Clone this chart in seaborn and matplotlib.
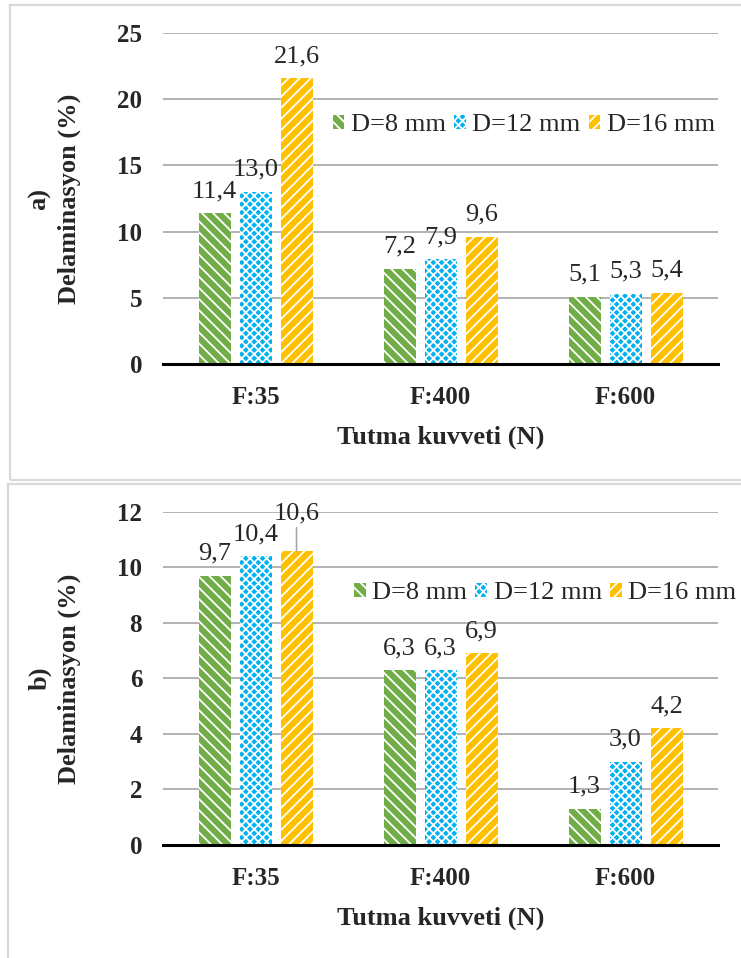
import matplotlib
matplotlib.use("Agg")
import matplotlib.pyplot as plt
from matplotlib.patches import Rectangle
import pandas as pd
import seaborn as sns

# Clamping force categories and drill diameters
forces = ["F:35", "F:400", "F:600"]
diameters = ["D=8 mm", "D=12 mm", "D=16 mm"]

# Delamination (%) for panel a)
a_d8 = [11.4, 7.2, 5.1]
a_d12 = [13.0, 7.9, 5.3]
a_d16 = [21.6, 9.6, 5.4]

# Delamination (%) for panel b)
b_d8 = [9.7, 6.3, 1.3]
b_d12 = [10.4, 6.3, 3.0]
b_d16 = [10.6, 6.9, 4.2]

a_ticks = [0, 5, 10, 15, 20, 25]
b_ticks = [0, 2, 4, 6, 8, 10, 12]

colors = ["#70AD47", "#00B0F0", "#FFC000"]
hatches = ["\\\\\\", "xxxx", "///"]

sns.set_theme(style="white")
plt.rcParams["font.family"] = ["Liberation Serif", "DejaVu Serif"]
plt.rcParams["hatch.linewidth"] = 1.3


def frame(series):
    rows = []
    for d, vals in zip(diameters, series):
        for f, v in zip(forces, vals):
            rows.append({"force": f, "diameter": d, "value": v})
    return pd.DataFrame(rows)


def fmt(v):
    return f"{v:.1f}".replace(".", ",")


fig = plt.figure(figsize=(7.41, 9.58), dpi=100)

# light panel frames
fig.patches.append(Rectangle((10 / 741, 1 - 480 / 958), 740 / 741, 475 / 958,
                             transform=fig.transFigure, fill=False,
                             edgecolor="#D9D9D9", lw=1.6))
fig.patches.append(Rectangle((8 / 741, -0.01), 740 / 741, 1 - 484 / 958 + 0.01,
                             transform=fig.transFigure, fill=False,
                             edgecolor="#D9D9D9", lw=1.6))

ax_a = fig.add_axes([0.22, 0.62, 0.749, 0.3455])
ax_b = fig.add_axes([0.22, 0.118, 0.749, 0.3476])

panels = [
    (ax_a, [a_d8, a_d12, a_d16], a_ticks, "a)", (0.707, 0.8695), None),
    (ax_b, [b_d8, b_d12, b_d16], b_ticks, "b)", (0.7355, 0.381), (2, 0)),
]

for ax, series, ticks, tag, leg_pos, leader in panels:
    df = frame(series)
    sns.barplot(data=df, x="force", y="value", hue="diameter",
                order=forces, hue_order=diameters, palette=colors,
                width=0.665, gap=0.22, ax=ax, legend=False,
                saturation=1, errorbar=None)
    for i, cont in enumerate(ax.containers):
        for p in cont.patches:
            p.set_hatch(hatches[i])
            p.set_edgecolor("white")
            p.set_linewidth(0)
        labels = [fmt(v) for v in series[i]]
        if leader is not None and leader[0] == i:
            j = leader[1]
            lab = labels.copy()
            lab[j] = ""
            ax.bar_label(cont, labels=lab, padding=8, fontsize=19)
            p = cont.patches[j]
            ax.annotate(labels[j], xy=(p.get_x() + p.get_width() / 2, p.get_height()),
                        xytext=(0, 19), textcoords="offset points",
                        ha="center", va="bottom", fontsize=19,
                        arrowprops=dict(arrowstyle="-", color="#A6A6A6",
                                        lw=1.2, shrinkA=0, shrinkB=0))
        else:
            ax.bar_label(cont, labels=labels, padding=8, fontsize=19)

    ax.set_ylim(ticks[0], ticks[-1])
    ax.set_yticks(ticks)
    ax.set_xlim(-0.5, 2.5)
    ax.yaxis.grid(True, color="#A6A6A6", lw=1.2)
    ax.set_axisbelow(True)
    for s in ["top", "right", "left"]:
        ax.spines[s].set_visible(False)
    ax.spines["bottom"].set_color("black")
    ax.spines["bottom"].set_linewidth(2.2)
    ax.tick_params(axis="both", length=0, labelsize=18)
    ax.tick_params(axis="y", pad=15)
    ax.tick_params(axis="x", pad=16)
    for t in ax.get_xticklabels() + ax.get_yticklabels():
        t.set_fontweight("bold")
    ax.set_xlabel("Tutma kuvveti (N)", fontsize=19, fontweight="bold", labelpad=12)
    ax.set_ylabel(f"{tag}\nDelaminasyon (%)", fontsize=19, fontweight="bold",
                  labelpad=26, linespacing=1.35)

    handles = [c.patches[0] for c in ax.containers]
    fig.legend(handles, diameters, loc="center", bbox_to_anchor=leg_pos,
               ncol=3, frameon=False, fontsize=19, handlelength=0.45,
               handleheight=0.45, handletextpad=0.25, columnspacing=0.3,
               borderaxespad=0)

fig.savefig("out.png", dpi=100)
